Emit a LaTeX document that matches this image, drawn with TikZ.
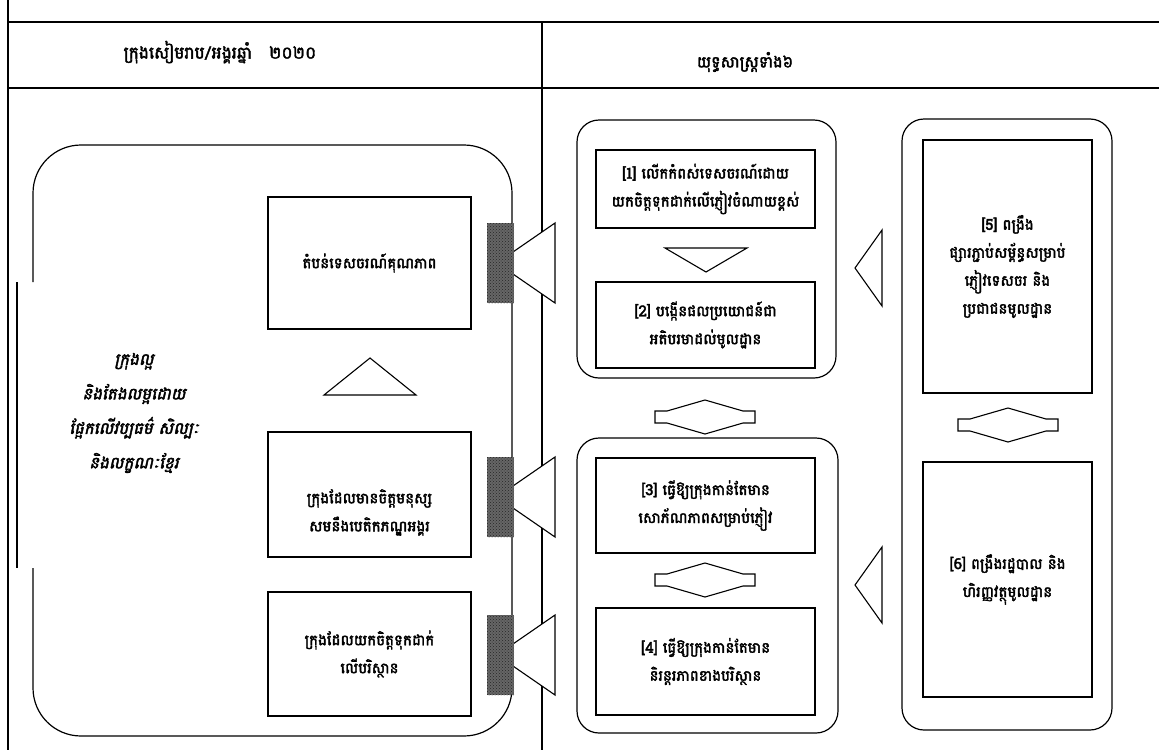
\documentclass[tikz,border=0pt]{standalone}
\usepackage{fontspec}
\newfontfamily\khmer[Script=Khmer,FakeBold=2.5]{Battambang}
\newfontfamily\khmerit[Script=Khmer,FakeBold=2.5,FakeSlant=0.22]{Battambang}
\usetikzlibrary{calc, patterns}

\begin{document}
\begin{tikzpicture}[x=1pt, y=-1pt,
		box/.style={draw, line width=1.2pt, fill=white, align=center, inner sep=0pt,
			font=\khmer\fontsize{15}{28}\selectfont},
		txt/.style={align=center, inner sep=0pt, font=\khmer\fontsize{15}{28}\selectfont},
		panel/.style={draw, line width=1.2pt, rounded corners=22pt},
		tri/.style={draw, line width=1.1pt, fill=white, line join=miter},
		bar/.style={draw=none, fill=black!60, postaction={pattern=crosshatch dots, pattern color=black!85}}]
	\useasboundingbox (0,0) rectangle (1159,750);

	% frame and headers
	\draw[line width=2.5pt] (8,0) -- (8,750);
	\draw[line width=1.3pt] (8,22) -- (1159,22);
	\draw[line width=1.3pt] (8,88) -- (1159,88);
	\draw[line width=1.2pt] (542,22) -- (542,750);
	\node[txt, font=\khmer\fontsize{17}{18}\selectfont] (headL) at (220,52) {ក្រុងសៀមរាប/អង្គរឆ្នាំ\quad ២០២០};
	\node[txt, font=\khmer\fontsize{16}{18}\selectfont] (headR) at (745,62) {យុទ្ធសាស្ត្រទាំង៦};

	% left part
	\draw[line width=1.2pt, rounded corners=48pt] (33,282) -- (33,145) -- (512,145) -- (512,736) -- (33,736) -- (33,568);
	\draw[line width=1.2pt] (17,282) -- (17,568);
	\node[txt, font=\khmerit\fontsize{16.5}{34.5}\selectfont] (vision) at (134,413)
		{ក្រុងល្អ\\និងតែងលម្អដោយ\\ផ្អែកលើវប្បធម៌ សិល្បៈ\\និងលក្ខណៈខ្មែរ};
	\node[box, minimum width=203pt, minimum height=132pt] (zoneA) at (369.5,263) {តំបន់ទេសចរណ៍គុណភាព};
	\node[box, minimum width=203pt, minimum height=125pt] (cityB) at (369.5,494.5) {};
	\node[txt] (cityBtext) at ($(cityB)+(0,18)$) {ក្រុងដែលមានចិត្តមនុស្ស\\សមនឹងបេតិកភណ្ឌអង្គរ};
	\node[box, minimum width=203pt, minimum height=124pt] (cityC) at (369.5,654) {ក្រុងដែលយកចិត្តទុកដាក់\\លើបរិស្ថាន};
	\draw[tri] (324,395) -- (370,358) -- (416,395) -- cycle;
	\foreach \yc in {263,497,655} {
		\draw[tri] (555,\yc-40) -- (497,\yc) -- (555,\yc+40) -- cycle;
		\fill[bar] (487,\yc-40) rectangle (514,\yc+40);
	}

	% strategies
	\draw[panel] (577,120) rectangle (836,378);
	\draw[panel] (577,438) rectangle (838,733);
	\draw[panel] (902,119) rectangle (1112,730);
	\node[box, minimum width=219pt, minimum height=78pt] (st1) at (705.5,189) {[1] លើកកំពស់ទេសចរណ៍ដោយ\\យកចិត្តទុកដាក់លើភ្ញៀវចំណាយខ្ពស់};
	\node[box, minimum width=219pt, minimum height=86pt] (st2) at (705.5,325) {[2] បង្កើនផលប្រយោជន៍ជា\\អតិបរមាដល់មូលដ្ឋាន};
	\node[box, minimum width=219pt, minimum height=95pt] (st3) at (705.5,505.5) {[3] ធ្វើឱ្យក្រុងកាន់តែមាន\\សោភ័ណភាពសម្រាប់ភ្ញៀវ};
	\node[box, minimum width=219pt, minimum height=107pt] (st4) at (705.5,661.5) {[4] ធ្វើឱ្យក្រុងកាន់តែមាន\\និរន្តរភាពខាងបរិស្ថាន};
	\node[box, minimum width=169pt, minimum height=253pt] (st5) at (1007.5,266.5) {[5] ពង្រឹង\\ផ្សារភ្ជាប់សម្ព័ន្ធសម្រាប់\\ភ្ញៀវទេសចរ និង\\ប្រជាជនមូលដ្ឋាន};
	\node[box, minimum width=169pt, minimum height=235pt] (st6) at (1007.5,579.5) {[6] ពង្រឹងរដ្ឋបាល និង\\ហិរញ្ញវត្ថុមូលដ្ឋាន};

	\draw[tri] (665,248) -- (747,248) -- (706,272) -- cycle;
	\foreach \cx/\cy in {705/417, 705/580, 1008/425}
		\draw[tri, shift={(\cx,\cy)}] (0,-17) -- (-38,-6) -- (-50,-6) -- (-50,6) -- (-38,6) -- (0,17)
			-- (38,6) -- (50,6) -- (50,-6) -- (38,-6) -- cycle;
	\foreach \yc in {268,585}
		\draw[tri] (882,\yc-38) -- (855,\yc) -- (882,\yc+38) -- cycle;
\end{tikzpicture}
\end{document}
